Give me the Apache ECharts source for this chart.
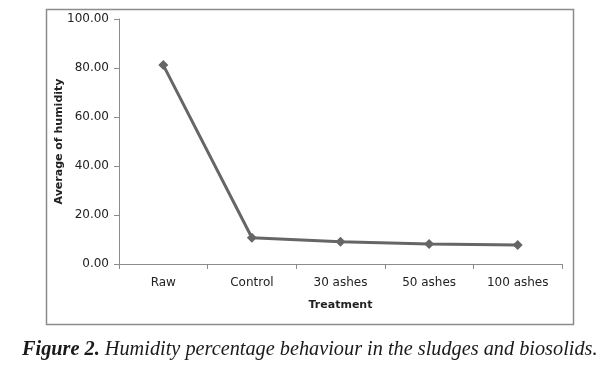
<!DOCTYPE html>
<html><head><meta charset="utf-8">
<script src="https://cdn.jsdelivr.net/npm/echarts@6/dist/echarts.min.js"></script>
<style>html,body{margin:0;padding:0;background:#fff}#c{width:607px;height:369px}</style>
</head><body><div id="c"></div>
<script>
const categories = ['Raw', 'Control', '30 ashes', '50 ashes', '100 ashes'];
const humidity = [81.2, 10.7, 9.1, 8.2, 7.8];
const yTicks = [0, 20, 40, 60, 80, 100];

const chart = echarts.init(document.getElementById('c'), null, {renderer: 'canvas'});
chart.setOption({
  animation: false,
  backgroundColor: '#fff',
  textStyle: {fontFamily: 'DejaVu Sans'},
  grid: {left: 119, right: 45, top: 19, bottom: 105, containLabel: false},
  graphic: [
    {type: 'rect', shape: {x: 46.5, y: 9.5, width: 527, height: 315}, style: {fill: 'none', stroke: '#8c8c8c', lineWidth: 1.5}, z: -1},
    {type: 'text', left: 22, top: 340, style: {
      rich: {
        b: {fontFamily: 'Liberation Serif', fontStyle: 'italic', fontWeight: 'bold', fontSize: 20.3, fill: '#1a1a1a'},
        i: {fontFamily: 'Liberation Serif', fontStyle: 'italic', fontSize: 20.3, fill: '#1a1a1a'}
      },
      text: '{b|Figure 2.}{i| Humidity percentage behaviour in the sludges and biosolids.}'
    }}
  ],
  xAxis: {
    type: 'category', data: categories, boundaryGap: true,
    name: 'Treatment', nameLocation: 'middle', nameGap: 36,
    nameTextStyle: {fontWeight: 'bold', fontSize: 11, color: '#222', fontFamily: 'DejaVu Sans'},
    axisLine: {lineStyle: {color: '#8c8c8c', width: 1}},
    axisTick: {show: true, alignWithLabel: false, length: 5, lineStyle: {color: '#8c8c8c'}},
    axisLabel: {fontSize: 12, color: '#222', margin: 13, fontFamily: 'DejaVu Sans'}
  },
  yAxis: {
    type: 'value', min: yTicks[0], max: yTicks[yTicks.length - 1], interval: 20,
    name: 'Average of humidity', nameLocation: 'middle', nameGap: 54, nameRotate: 90,
    nameMoveOverlap: false,
    nameTextStyle: {fontWeight: 'bold', fontSize: 11, color: '#222', fontFamily: 'DejaVu Sans'},
    axisLine: {show: true, lineStyle: {color: '#8c8c8c', width: 1}},
    axisTick: {show: true, length: 5, inside: false, lineStyle: {color: '#8c8c8c'}},
    splitLine: {show: false},
    axisLabel: {fontSize: 12, color: '#222', margin: 10, fontFamily: 'DejaVu Sans',
      formatter: v => v.toFixed(2)}
  },
  series: [{
    type: 'line', data: humidity,
    symbol: 'diamond', symbolSize: 10,
    lineStyle: {color: '#666666', width: 3},
    itemStyle: {color: '#666666'}
  }]
});
</script></body></html>
